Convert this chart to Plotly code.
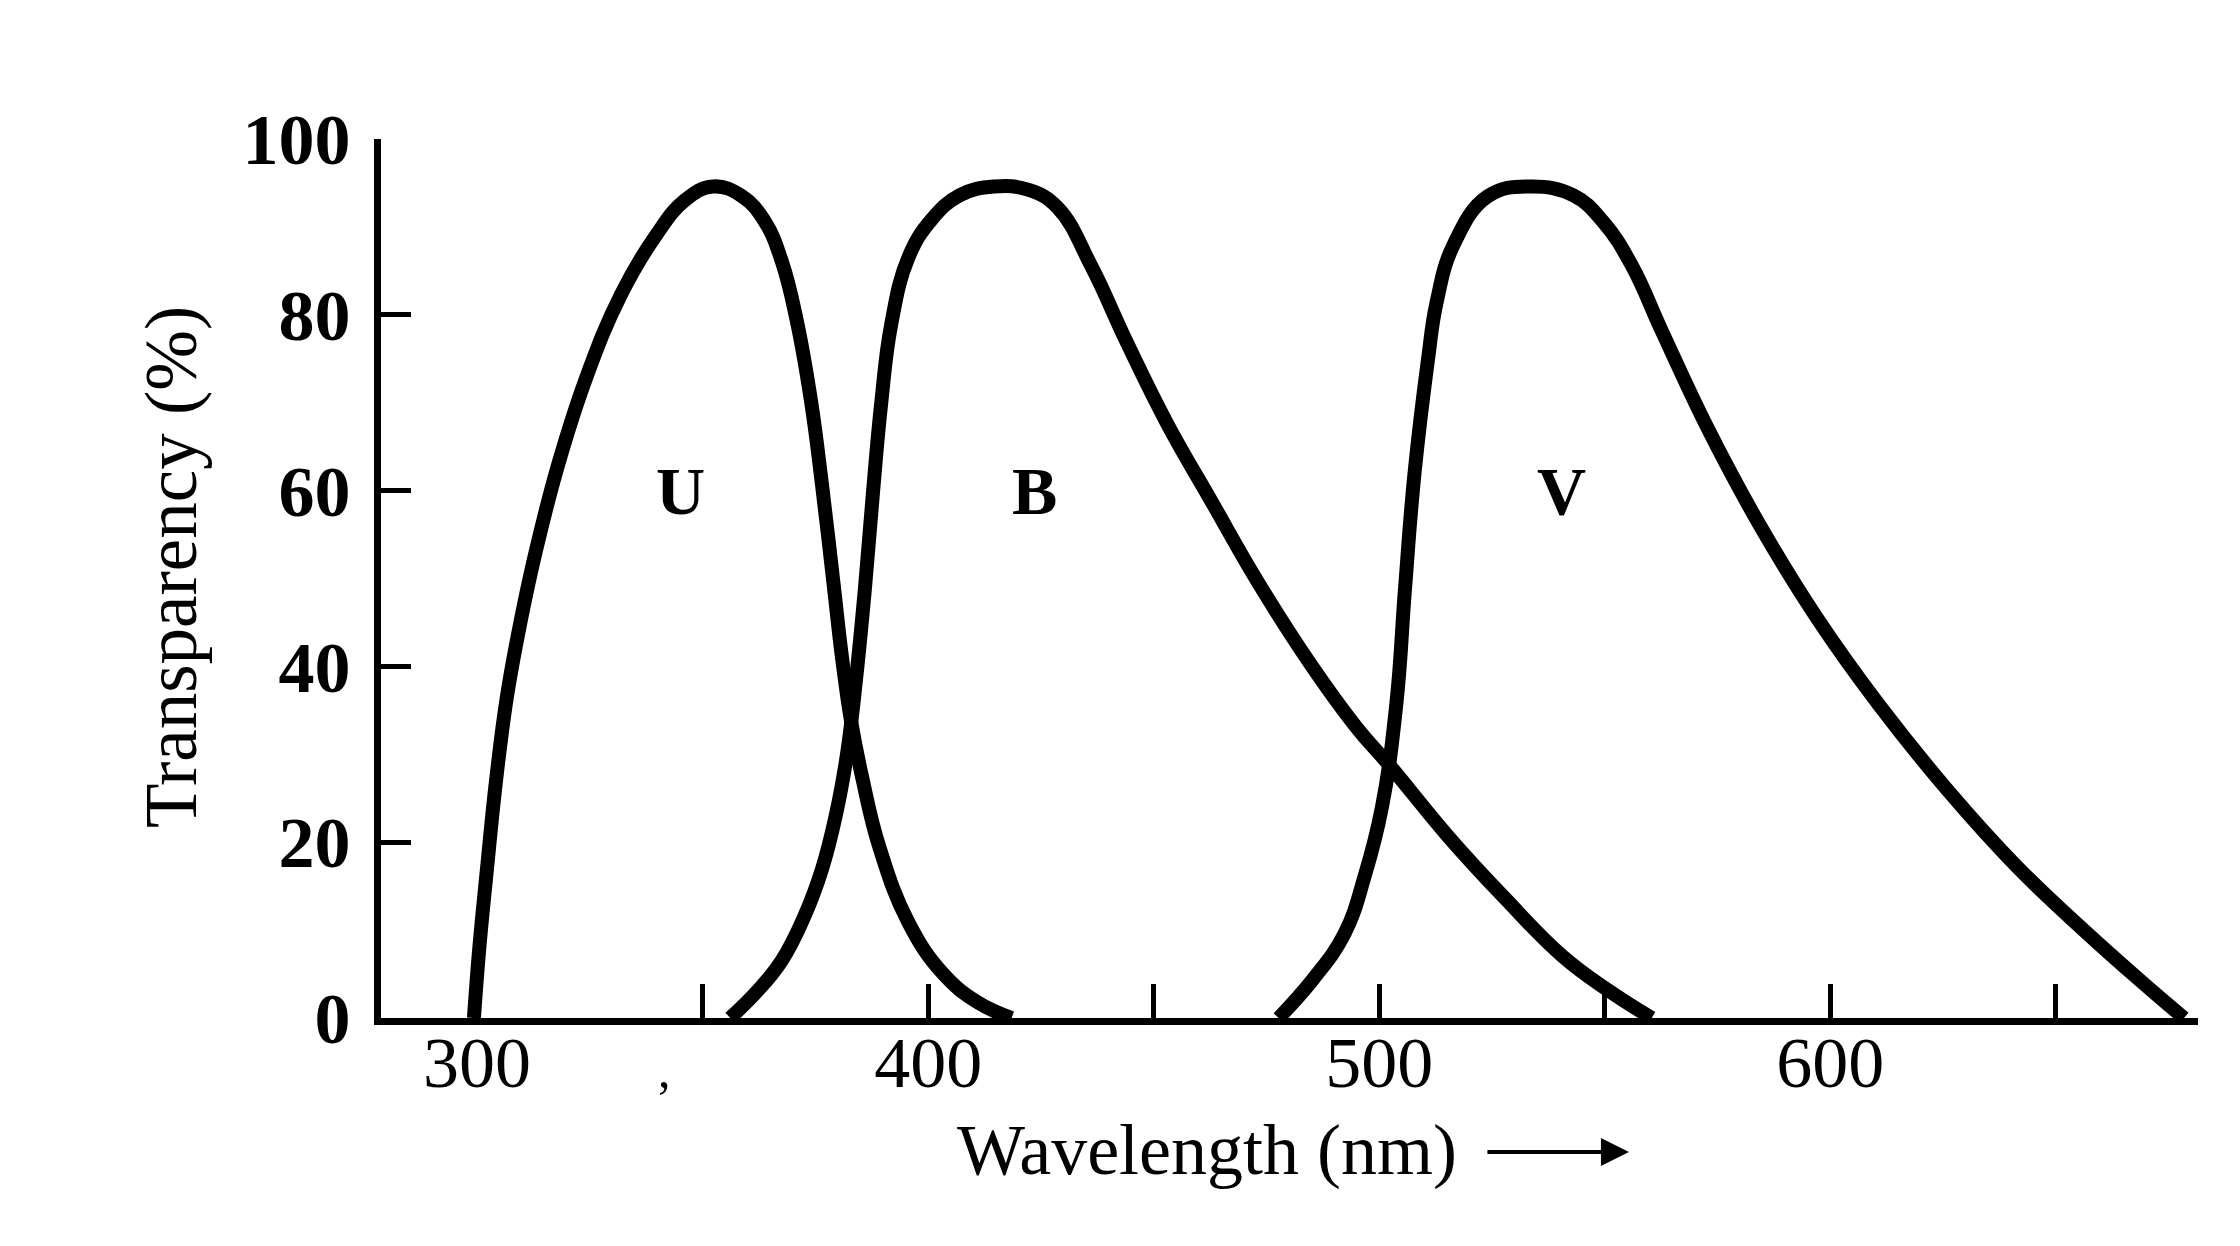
import plotly.graph_objects as go

# ---- data ----
u_nm = [299.3, 300.5, 302.2, 304.2, 306.6, 309.6, 313.2, 318.0, 324.3, 331.9, 339.6, 346.0, 352.3,
        358.7, 363.8, 367.6, 370.8, 374.0, 376.5, 379.0, 380.9, 382.9, 385.4, 389.2, 395.6,
        403.2, 410.9, 418.5]
u_pct = [0, 8.0, 17.0, 27.0, 36.5, 45.0, 53.5, 63.0, 73.0, 82.3, 89.0, 93.0, 94.6,
         93.5, 90.6, 86.0, 79.5, 70.3, 60.5, 49.5, 41.0, 33.8, 27.3, 19.4, 10.9,
         5.1, 1.8, 0]

b_nm = [356.1, 362.0, 367.5, 372.5, 376.5, 379.5, 382.0, 384.0, 386.0, 387.8, 389.6, 391.8,
        395.6, 400.7, 407.0, 414.6, 422.3, 428.7, 436.3, 444.0, 452.9, 463.0, 473.2, 484.7,
        494.9, 502.5, 515.2, 527.9, 540.7, 550.9, 560.4]
b_pct = [0, 3.0, 6.5, 11.5, 17.0, 23.0, 30.0, 38.5, 49.0, 60.0, 70.0, 78.9,
         86.5, 90.8, 93.6, 94.6, 94.2, 92.2, 85.4, 76.9, 67.7, 58.6, 49.5, 40.3,
         33.1, 28.6, 20.7, 13.6, 7.0, 3.1, 0]

v_nm = [477.7, 485.3, 492.3, 496.8, 500.6, 503.8, 505.7, 507.8, 510.8, 512.7, 516.5, 524.1,
        533.5, 543.0, 549.6, 556.0, 562.6, 572.8, 584.2, 596.9, 610.8, 626.2, 641.4, 656.8,
        669.5, 678.4]
v_pct = [0, 4.4, 9.6, 16.2, 24.0, 35.8, 48.8, 61.9, 74.9, 81.4, 88.0, 93.5,
         94.6, 93.6, 90.6, 85.6, 78.2, 67.1, 56.2, 45.6, 35.6, 25.8, 17.2, 9.7,
         3.9, 0]

filter_names = ["U", "B", "V"]
label_x = [345.2, 423.5, 540.3]
label_y = [60.0, 60.0, 60.0]

x_tickvals = [300, 350, 400, 450, 500, 550, 600, 650]
x_ticktext = ["300", "", "400", "", "500", "", "600", ""]
y_tickvals = [0, 20, 40, 60, 80, 100]
y_ticktext = ["0", "20", "40", "60", "80", "100"]

x_title = "Wavelength (nm)"
y_title = "Transparency (%)"

SERIF = "Liberation Serif, Times New Roman, serif"

fig = go.Figure()
for xs, ys, name in zip([u_nm, b_nm, v_nm], [u_pct, b_pct, v_pct], filter_names):
    fig.add_trace(go.Scatter(
        x=xs, y=ys, mode="lines", name=name,
        line=dict(color="black", width=14, shape="spline", smoothing=1.2),
        hoverinfo="skip", showlegend=False,
    ))

annotations = []
for name, lx, ly in zip(filter_names, label_x, label_y):
    annotations.append(dict(
        x=lx, y=ly, xref="x", yref="y", text=name, showarrow=False,
        font=dict(family=SERIF, size=68, color="black", weight="bold"),
        xanchor="center", yanchor="middle",
    ))

# axis titles
annotations.append(dict(
    x=0.4546, y=-0.1502, xref="paper", yref="paper", text=x_title, showarrow=False,
    font=dict(family=SERIF, size=72, color="black"), xanchor="center", yanchor="middle",
))
annotations.append(dict(
    x=0.6868, y=-0.1524, xref="paper", yref="paper", text="", showarrow=True,
    ax=-143, ay=0, arrowhead=2, arrowsize=1.4, arrowwidth=4, arrowcolor="black",
))
annotations.append(dict(
    x=-0.1156, y=0.513, xref="paper", yref="paper", text=y_title, showarrow=False,
    textangle=-90, font=dict(family=SERIF, size=73, color="black"),
    xanchor="center", yanchor="middle",
))
# stray comma mark under the axis
annotations.append(dict(
    x=341.5, y=-0.059, xref="x", yref="paper", text=",", showarrow=False,
    font=dict(family=SERIF, size=50, color="black"), xanchor="center", yanchor="middle",
))

fig.update_layout(
    width=2232, height=1238,
    margin=dict(l=373, r=42, t=131, b=228, pad=0),
    paper_bgcolor="white", plot_bgcolor="white",
    annotations=annotations,
    xaxis=dict(
        range=[278.7, 681.5], showgrid=False, zeroline=False,
        showline=True, linecolor="black", linewidth=7,
        tickmode="array", tickvals=x_tickvals, ticktext=x_ticktext,
        ticks="inside", ticklen=34, tickwidth=5, tickcolor="black",
        tickfont=dict(family=SERIF, size=72, color="black"),
        ticklabelstandoff=-24,
    ),
    yaxis=dict(
        range=[0, 100], showgrid=False, zeroline=False,
        showline=True, linecolor="black", linewidth=7,
        tickmode="array", tickvals=y_tickvals, ticktext=y_ticktext,
        ticks="inside", ticklen=30, tickwidth=5, tickcolor="black",
        tickfont=dict(family=SERIF, size=72, color="black", weight="bold"),
        ticklabelstandoff=9,
    ),
)

fig.write_html("out.html")
